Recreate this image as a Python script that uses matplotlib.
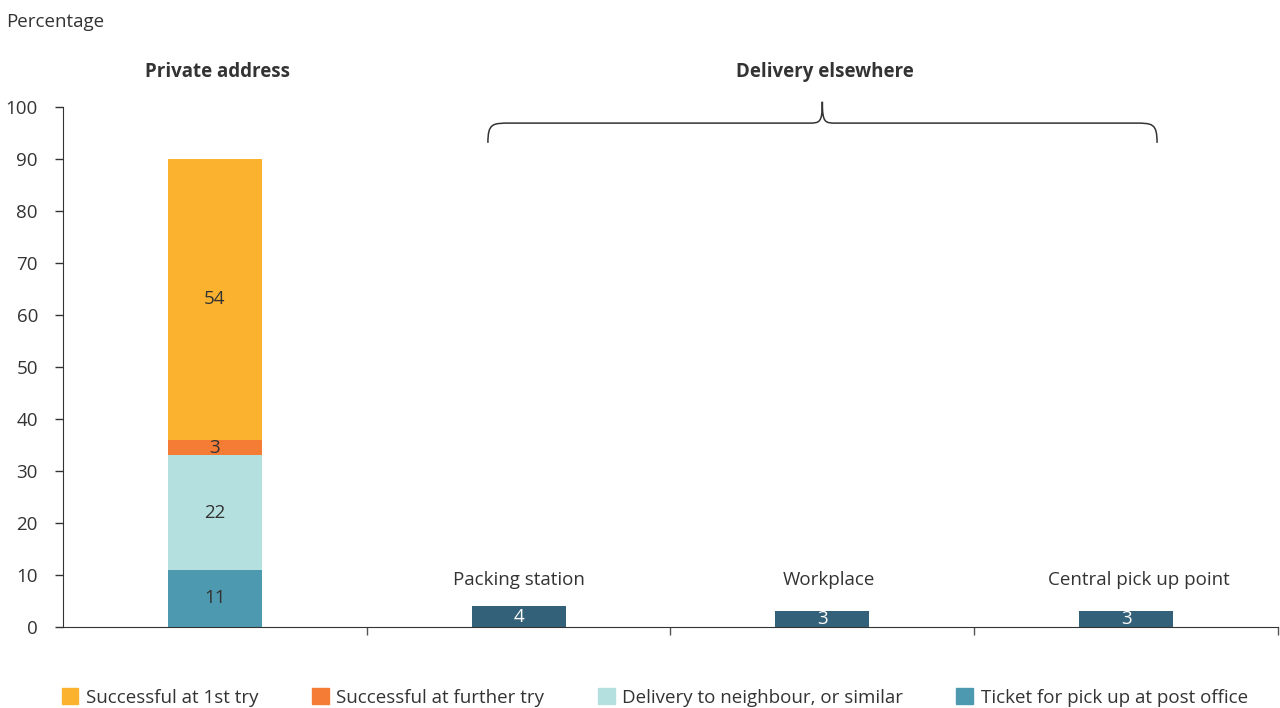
import matplotlib.pyplot as plt
import matplotlib.patches as mpatches
from matplotlib.path import Path
import numpy as np

plt.rcParams['font.family'] = ['Open Sans', 'DejaVu Sans']

categories = ['Private address', 'Packing station', 'Workplace', 'Central pick up point']
series_names = ['Ticket for pick up at post office', 'Delivery to neighbour, or similar',
                'Successful at further try', 'Successful at 1st try']
private_values = [11, 22, 3, 54]
elsewhere_values = [4, 3, 3]

seg_colors = ['#4d9ab0', '#b5e0e0', '#f47c35', '#fbb32f']
dark_teal = '#34617a'
text_col = '#333333'
fs = 13.5
name_shift = [0.0, 0.023, 0.043]  # nudge for the category captions

fig = plt.figure(figsize=(12.8, 7.08), dpi=100)
ax = fig.add_axes([0.0492, 0.1144, 0.9492, 0.7345])

bw = 0.31
bottom = 0
for val, col in zip(private_values, seg_colors):
    ax.bar(0, val, bw, bottom=bottom, color=col, linewidth=0)
    ax.text(0, bottom + val / 2, str(val), ha='center', va='center',
            fontsize=fs, color=text_col)
    bottom += val

xs = np.arange(1, len(categories))
ax.bar(xs, elsewhere_values, bw, color=dark_teal, linewidth=0)
for x, v, name, dx in zip(xs, elsewhere_values, categories[1:], name_shift):
    ax.text(x, v / 2, str(v), ha='center', va='center', fontsize=fs, color='white')
    ax.text(x + dx, 9.0, name, ha='center', va='center', fontsize=fs, color=text_col)

ax.set_xlim(-0.5, 3.5)
ax.set_ylim(0, 100)
ax.set_yticks(range(0, 101, 10))
ax.set_xticks([0.5, 1.5, 2.5, 3.5])
ax.set_xticklabels([])
ax.tick_params(axis='y', labelsize=fs, colors=text_col, length=6, width=1, pad=12)
ax.tick_params(axis='x', length=6, width=1, color='#555555')
for s in ['top', 'right']:
    ax.spines[s].set_visible(False)
ax.spines['left'].set_color('#333333')
ax.spines['bottom'].set_color('#333333')

# group headings
ax.text(0.01, 106.8, 'Private address', ha='center', va='center',
        fontsize=fs, fontweight='bold', color=text_col, clip_on=False)
ax.text(2.01, 106.8, 'Delivery elsewhere', ha='center', va='center',
        fontsize=fs, fontweight='bold', color=text_col, clip_on=False)

# curly brace over the "elsewhere" group
x0, xm, x1 = 0.899, 2.0, 3.102
yb, yl, yt = 93.1, 96.9, 101.0
rx, rm = 0.075, 0.045
verts = [
    (x0, yb), (x0, yl), (x0 + rx * 0.2, yl), (x0 + rx, yl),
    (xm - rm, yl),
    (xm - rm * 0.2, yl), (xm, yl), (xm, yt),
    (xm, yl), (xm + rm * 0.2, yl), (xm + rm, yl),
    (x1 - rx, yl),
    (x1 - rx * 0.2, yl), (x1, yl), (x1, yb),
]
codes = [Path.MOVETO, Path.CURVE4, Path.CURVE4, Path.CURVE4,
         Path.LINETO,
         Path.CURVE4, Path.CURVE4, Path.CURVE4,
         Path.CURVE4, Path.CURVE4, Path.CURVE4,
         Path.LINETO,
         Path.CURVE4, Path.CURVE4, Path.CURVE4]
brace = mpatches.PathPatch(Path(verts, codes), fill=False, edgecolor='#333333',
                           linewidth=1.1, clip_on=False)
ax.add_patch(brace)

fig.text(0.005, 0.969, 'Percentage', ha='left', va='center', fontsize=fs, color=text_col)

handles = [mpatches.Patch(color=c) for c in seg_colors[::-1]]
fig.legend(handles, series_names[::-1], loc='center', bbox_to_anchor=(0.5115, 0.015),
           ncol=4, frameon=False, fontsize=fs, handlelength=0.9, handleheight=0.9,
           handletextpad=0.4, columnspacing=2.85, labelcolor=text_col)

fig.savefig('out.png', dpi=100)
